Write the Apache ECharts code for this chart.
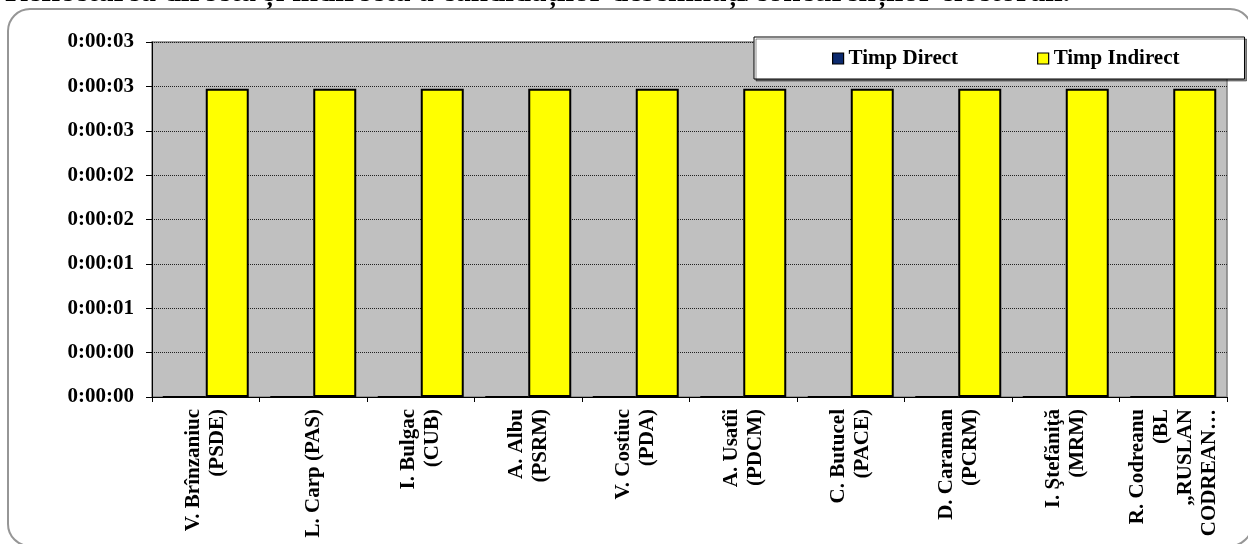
<!DOCTYPE html>
<html>
<head>
<meta charset="utf-8">
<script src="https://cdn.jsdelivr.net/npm/echarts@6/dist/echarts.min.js"></script>
<style>
html,body{margin:0;padding:0;background:#fff;}
#chart{width:1248px;height:544px;}
</style>
</head>
<body>
<div id="chart"></div>
<script>
const titleText = 'Reflectarea directă și indirectă a candidaților desemnați/concurenților electorali.';
const categories = [
  'V. Brînzaniuc\n(PSDE)',
  'L. Carp (PAS)',
  'I. Bulgac\n(CUB)',
  'A. Albu\n(PSRM)',
  'V. Costiuc\n(PDA)',
  'A. Usatîi\n(PDCM)',
  'C. Butucel\n(PACE)',
  'D. Caraman\n(PCRM)',
  'I. Ştefăniţă\n(MRM)',
  'R. Codreanu\n(BL\n„RUSLAN\nCODREAN…'
];
const seriesNames = ['Timp Direct', 'Timp Indirect'];
// values in seconds
const timpDirect = [0, 0, 0, 0, 0, 0, 0, 0, 0, 0];
const timpIndirect = [3, 3, 3, 3, 3, 3, 3, 3, 3, 3];
// axis: Excel time step 0.000005 day = 0.432 s
const yMin = 0;
const yInterval = 0.432;
const yMax = 3.456;

const FONT = '"Liberation Serif", "Times New Roman", serif';

function fmtTime(v) {
  const s = Math.round(v + 1e-9);
  const h = Math.floor(s / 3600);
  const m = Math.floor((s % 3600) / 60);
  const ss = s % 60;
  return h + ':' + String(m).padStart(2, '0') + ':' + String(ss).padStart(2, '0');
}

const chart = echarts.init(document.getElementById('chart'), null, {renderer: 'canvas'});
chart.setOption({
  animation: false,
  backgroundColor: '#ffffff',
  graphic: [
    {
      type: 'rect',
      z: -10,
      shape: {x: 8, y: 9, width: 1244, height: 537, r: 22},
      style: {fill: 'none', stroke: '#969696', lineWidth: 2}
    },
    {
      type: 'text',
      left: 5,
      top: -23,
      style: {
        text: titleText,
        font: 'bold 31px ' + FONT,
        fill: '#000'
      }
    }
  ],
  legend: {
    left: 754,
    top: 37,
    padding: [11, 65, 10, 78],
    itemGap: 79,
    itemWidth: 11,
    itemHeight: 11,
    backgroundColor: '#ffffff',
    borderColor: '#000',
    borderWidth: 1,
    shadowColor: 'rgba(0,0,0,0.45)',
    shadowOffsetX: 2,
    shadowOffsetY: 2,
    shadowBlur: 0,
    icon: 'rect',
    itemStyle: {borderColor: '#000', borderWidth: 1.2},
    textStyle: {fontFamily: FONT, fontWeight: 'bold', fontSize: 21, color: '#000'},
    data: seriesNames
  },
  grid: {
    left: 152,
    right: 21,
    top: 42,
    bottom: 147,
    show: true,
    backgroundColor: '#C0C0C0',
    borderColor: '#808080',
    borderWidth: 1.5
  },
  xAxis: {
    type: 'category',
    data: categories,
    boundaryGap: true,
    axisLine: {show: true, lineStyle: {color: '#000', width: 1}},
    axisTick: {show: true, length: 5, lineStyle: {color: '#000'}},
    axisLabel: {
      interval: 0,
      rotate: 90,
      margin: 12,
      fontFamily: FONT,
      fontWeight: 'bold',
      fontSize: 21,
      lineHeight: 24,
      color: '#000'
    }
  },
  yAxis: {
    type: 'value',
    min: yMin,
    max: yMax,
    interval: yInterval,
    axisLine: {show: true, lineStyle: {color: '#000', width: 1}},
    axisTick: {show: true, length: 6, lineStyle: {color: '#000'}},
    axisLabel: {
      margin: 18,
      formatter: fmtTime,
      fontFamily: FONT,
      fontWeight: 'bold',
      fontSize: 21,
      color: '#000'
    },
    splitLine: {show: true, lineStyle: {color: '#222', width: 1, type: [1, 1]}}
  },
  series: [
    {
      name: seriesNames[0],
      type: 'bar',
      data: timpDirect,
      barGap: '0%',
      barCategoryGap: '20%',
      itemStyle: {color: '#0C2A6E', borderColor: '#000', borderWidth: 2}
    },
    {
      name: seriesNames[1],
      type: 'bar',
      data: timpIndirect,
      barGap: '0%',
      barCategoryGap: '20%',
      itemStyle: {color: '#FFFF00', borderColor: '#000', borderWidth: 2}
    }
  ]
});
</script>
</body>
</html>
